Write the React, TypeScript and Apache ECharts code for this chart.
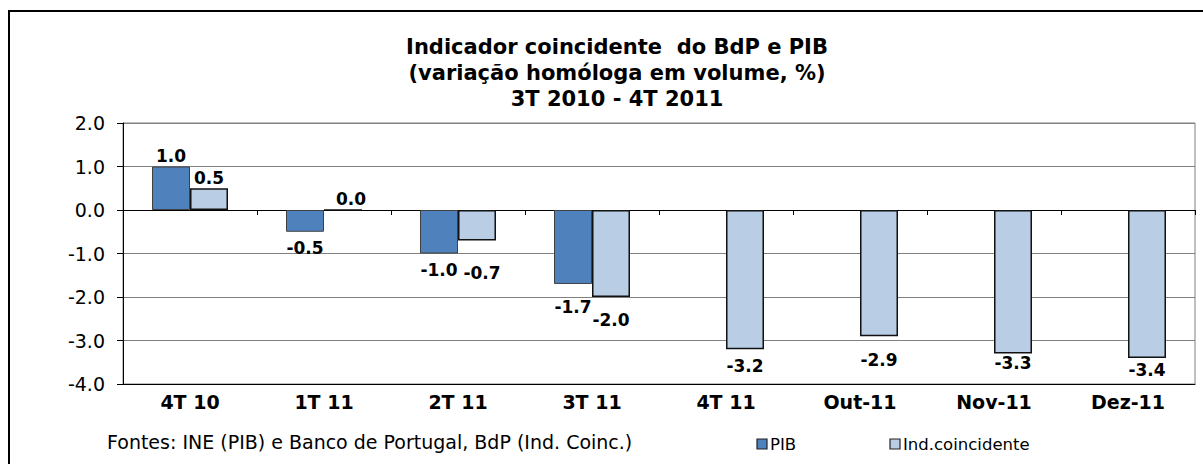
import React, { useEffect, useRef } from "react";
import * as echarts from "echarts";

const categories = ["4T 10", "1T 11", "2T 11", "3T 11", "4T 11", "Out-11", "Nov-11", "Dez-11"];
const pibValues: (number | null)[] = [1.0, -0.5, -1.0, -1.7, null, null, null, null];
const indValues: number[] = [0.5, 0.0, -0.7, -2.0, -3.2, -2.9, -3.3, -3.4];
const yTicks = { min: -4, max: 2, interval: 1 };
const titleLines = [
  "Indicador coincidente  do BdP e PIB",
  "(variação homóloga em volume, %)",
  "3T 2010 - 4T 2011",
];
const sourceText = "Fontes: INE (PIB) e Banco de Portugal, BdP (Ind. Coinc.)";
const seriesNames = ["PIB", "Ind.coincidente"];
const seriesColors = ["#4F81BD", "#B9CDE5"];

// label placement (styling only): [dx, distance from bar end]
const pibLabelPlace: [number, number][] = [[0, 2], [0, 8], [0, 8], [0, 15], [0, 0], [0, 0], [0, 0], [0, 0]];
const indLabelPlace: [number, number][] = [[0, 2], [8, 2], [5, 24], [0, 14], [0, 8], [0, 15], [0, 1], [0, 4]];

const FONT = "DejaVu Sans";

function toData(vals: (number | null)[], place: [number, number][]) {
  return vals.map((v, i) =>
    v === null
      ? "-"
      : {
          value: v,
          label: {
            position: v >= 0 ? "top" : "bottom",
            distance: place[i][1],
            offset: [place[i][0], 0],
          },
        }
  );
}

export default function App() {
  const ref = useRef<HTMLDivElement>(null);
  useEffect(() => {
    if (!ref.current) return;
    const chart = echarts.init(ref.current, null, { renderer: "svg" });
    const labelCfg = {
      show: true,
      fontFamily: FONT,
      fontWeight: "bold",
      fontSize: 17,
      color: "#000",
      formatter: (p: any) => Number(p.value).toFixed(1),
    };
    const legendX = [757, 890];
    const legendGraphics: any[] = [];
    seriesNames.forEach((name, i) => {
      legendGraphics.push({
        type: "rect",
        shape: { x: legendX[i], y: 439, width: 10, height: 10 },
        style: { fill: seriesColors[i], stroke: "#222", lineWidth: 1.2 },
        silent: true,
      });
      legendGraphics.push({
        type: "text",
        x: legendX[i] + 13,
        y: 444,
        style: {
          text: name,
          fontFamily: FONT,
          fontSize: 16.5,
          fill: "#000",
          textVerticalAlign: "middle",
        },
        silent: true,
      });
    });
    chart.setOption({
      animation: false,
      backgroundColor: "#fff",
      title: {
        text: titleLines.join("\n"),
        left: 612,
        top: 29,
        textAlign: "center",
        textStyle: {
          fontFamily: FONT,
          fontWeight: "bold",
          fontSize: 21,
          lineHeight: 26,
          color: "#000",
        },
      },
      grid: {
        left: 123,
        top: 123,
        right: 8,
        bottom: 80,
        show: true,
        borderColor: "#808080",
        borderWidth: 1,
      },
      xAxis: [
        {
          type: "category",
          data: categories,
          axisLine: { onZero: true, lineStyle: { color: "#000", width: 1 } },
          axisTick: { show: true, length: 5, lineStyle: { color: "#000" } },
          axisLabel: { show: false },
        },
        {
          type: "category",
          data: categories,
          position: "bottom",
          axisLine: { onZero: false, show: true, lineStyle: { color: "#000", width: 1 } },
          axisTick: { show: false },
          axisLabel: {
            margin: 8,
            fontFamily: FONT,
            fontWeight: "bold",
            fontSize: 19,
            color: "#000",
          },
        },
      ],
      yAxis: {
        type: "value",
        min: yTicks.min,
        max: yTicks.max,
        interval: yTicks.interval,
        axisLine: { show: true, lineStyle: { color: "#000" } },
        axisTick: { show: true, length: 6, lineStyle: { color: "#000" } },
        axisLabel: {
          margin: 18,
          fontFamily: FONT,
          fontSize: 19,
          color: "#000",
          formatter: (v: number) => v.toFixed(1),
        },
        splitLine: { show: true, lineStyle: { color: "#808080", width: 1 } },
      },
      series: [
        {
          name: seriesNames[0],
          type: "bar",
          xAxisIndex: 0,
          barWidth: 38,
          barGap: "0%",
          data: toData(pibValues, pibLabelPlace),
          itemStyle: { color: seriesColors[0], borderColor: "#404040", borderWidth: 1 },
          label: labelCfg,
        },
        {
          name: seriesNames[1],
          type: "bar",
          xAxisIndex: 0,
          barWidth: 38,
          barGap: "0%",
          data: toData(indValues, indLabelPlace),
          itemStyle: { color: seriesColors[1], borderColor: "#111", borderWidth: 1.5 },
          label: labelCfg,
        },
      ],
      graphic: [
        {
          type: "rect",
          shape: { x: 9, y: 11, width: 1230, height: 480 },
          style: { fill: "none", stroke: "#000", lineWidth: 2 },
          silent: true,
        },
        {
          type: "text",
          x: 107,
          y: 442,
          style: {
            text: sourceText,
            fontFamily: FONT,
            fontSize: 19,
            fill: "#000",
            textVerticalAlign: "middle",
          },
        },
        ...legendGraphics,
      ],
    });
    return () => chart.dispose();
  }, []);
  return (
    <div
      ref={ref}
      style={{ position: "fixed", left: 0, top: 0, width: 1203, height: 464 }}
    />
  );
}
